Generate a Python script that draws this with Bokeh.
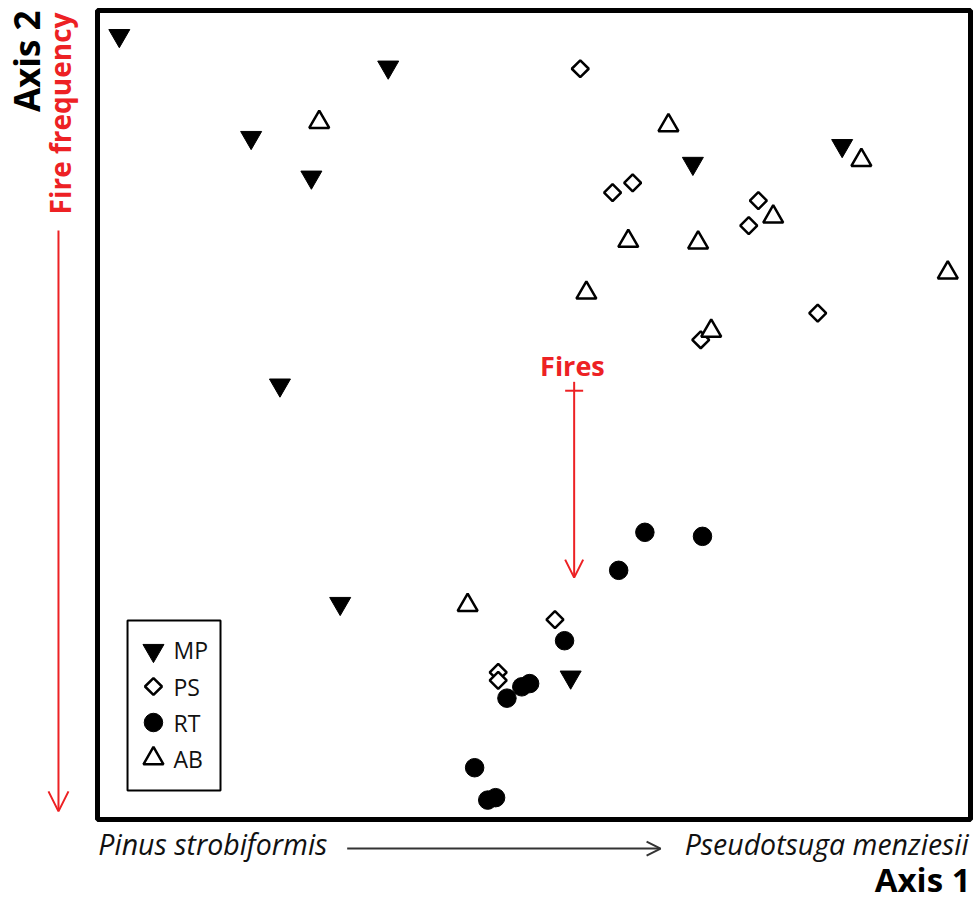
import numpy as np
from bokeh.plotting import figure
from bokeh.models import (Label, Arrow, OpenHead, TeeHead, BoxAnnotation, Range1d)
from bokeh.core.properties import value
from bokeh.embed import file_html
from bokeh.resources import INLINE

# Ordination scores (Axis 1 -> x, Axis 2 -> y), rescaled 0-100
mp_x = [2.5, 33.3, 17.6, 24.5, 68.2, 85.3, 20.9, 27.8, 54.2]
mp_y = [96.9, 93.0, 84.3, 79.4, 81.1, 83.3, 53.7, 26.7, 17.6]
ps_x = [55.3, 59.0, 61.3, 75.7, 74.6, 82.5, 69.1, 52.4, 45.9, 45.9]
ps_y = [92.8, 77.5, 78.7, 76.5, 73.4, 62.6, 59.3, 24.7, 18.2, 17.2]
rt_x = [62.7, 69.3, 59.7, 53.5, 49.5, 48.6, 46.9, 43.2, 44.7, 45.6]
rt_y = [35.5, 35.0, 30.8, 22.1, 16.8, 16.4, 15.0, 6.4, 2.4, 2.7]
ab_x = [25.4, 65.4, 87.5, 77.4, 60.8, 68.8, 97.4, 56.0, 70.3, 42.4]
ab_y = [86.2, 85.8, 81.5, 74.5, 71.5, 71.3, 67.6, 65.1, 60.4, 26.5]
groups = ["MP", "PS", "RT", "AB"]

# Fire vector (joint plot) and axis descriptors
fires_x = 54.6
fires_y0, fires_tee, fires_y1 = 54.1, 53.0, 29.9
fire_freq_x, fire_freq_y0, fire_freq_y1 = -4.47, 72.8, 1.0
axis1_arrow = (28.6, 64.5, -3.6)

RED = "#ED2124"
FONT = "Open Sans"

# the ordination space 0..100 is drawn in a box; the canvas extends beyond it
p = figure(width=977, height=901, x_range=Range1d(-11.111, 100.802),
           y_range=Range1d(-10.136, 101.236),
           x_axis_type=None, y_axis_type=None, toolbar_location=None,
           output_backend="svg", min_border=0)
p.outline_line_color = None
p.background_fill_color = "white"
p.border_fill_color = "white"

styles = {
    "MP": dict(marker="inverted_triangle", size=21, fill_color="black",
               line_color="black", line_width=1, angle=0),
    "PS": dict(marker="square", size=12, fill_color="white",
               line_color="black", line_width=2.5, angle=np.pi / 4),
    "RT": dict(marker="circle", size=18.5, fill_color="black",
               line_color="black", line_width=1, angle=0),
    "AB": dict(marker="triangle", size=20, fill_color="white",
               line_color="black", line_width=2.5, angle=0),
}
data = {"MP": (mp_x, mp_y), "PS": (ps_x, ps_y), "RT": (rt_x, rt_y), "AB": (ab_x, ab_y)}
for g in groups:
    xs, ys = data[g]
    p.scatter(xs, ys, **styles[g])

# plot box
p.add_layout(BoxAnnotation(left=0, right=100, bottom=0, top=100, fill_alpha=0,
                           line_color="black", line_width=5, line_alpha=1))

# legend (box + keys + labels)
leg_left, leg_right, leg_bottom, leg_top = 3.44, 14.09, 3.58, 24.6
leg_key_x = leg_left + 2.97
leg_txt_x = leg_left + 5.27
leg_row0 = leg_top - 3.71
leg_step = 4.45
p.add_layout(BoxAnnotation(left=leg_left, right=leg_right, bottom=leg_bottom, top=leg_top,
                           fill_alpha=0, line_color="black", line_width=2, line_alpha=1))
for i, g in enumerate(groups):
    p.scatter([leg_key_x], [leg_row0 - i * leg_step], **styles[g])
p.text(x=[leg_txt_x] * 4, y=[leg_row0 - i * leg_step for i in range(4)], text=groups,
       text_baseline="middle", text_align="left", text_font=value(FONT),
       text_font_size=value("23px"), text_color="#111111")

# Fires vector
p.add_layout(Arrow(x_start=fires_x, y_start=fires_tee, x_end=fires_x, y_end=fires_y1,
                   start=TeeHead(size=18, line_color=RED, line_width=2),
                   end=OpenHead(size=18, line_color=RED, line_width=2),
                   line_color=RED, line_width=2))
p.add_layout(Arrow(x_start=fires_x, y_start=fires_y0, x_end=fires_x, y_end=fires_tee,
                   end=None, line_color=RED, line_width=2))
p.add_layout(Label(x=fires_x - 0.2, y=56.1, text="Fires", text_align="center",
                   text_baseline="middle", text_font=FONT, text_font_style="bold",
                   text_font_size="27px", text_color=RED))

# Fire frequency arrow on the left
p.add_layout(Arrow(x_start=fire_freq_x, y_start=fire_freq_y0, x_end=fire_freq_x,
                   y_end=fire_freq_y1, end=OpenHead(size=20, line_color=RED, line_width=2),
                   line_color=RED, line_width=2))
p.add_layout(Label(x=-4.24, y=99.75, text="Fire frequency", angle=np.pi / 2,
                   text_align="right", text_baseline="middle", text_font=FONT,
                   text_font_style="bold", text_font_size="28px", text_color=RED))
p.add_layout(Label(x=-8.08, y=100.0, text="Axis 2", angle=np.pi / 2,
                   text_align="right", text_baseline="middle", text_font=FONT,
                   text_font_style="bold", text_font_size="35px", text_color="black"))

# Axis 1 descriptors
p.add_layout(Label(x=0.1, y=-3.09, text="Pinus strobiformis", text_align="left",
                   text_baseline="middle", text_font=FONT, text_font_style="italic",
                   text_font_size="28.5px", text_color="#111111"))
p.add_layout(Label(x=99.8, y=-3.09, text="Pseudotsuga menziesii", text_align="right",
                   text_baseline="middle", text_font=FONT, text_font_style="italic",
                   text_font_size="28.5px", text_color="#111111"))
p.add_layout(Arrow(x_start=axis1_arrow[0], y_start=axis1_arrow[2], x_end=axis1_arrow[1],
                   y_end=axis1_arrow[2], end=OpenHead(size=14, line_color="#333333", line_width=2),
                   line_color="#333333", line_width=2))
p.add_layout(Label(x=100, y=-7.45, text="Axis 1", text_align="right",
                   text_baseline="middle", text_font=FONT, text_font_style="bold",
                   text_font_size="33px", text_color="black"))

open("out.html", "w").write(file_html(p, INLINE))
